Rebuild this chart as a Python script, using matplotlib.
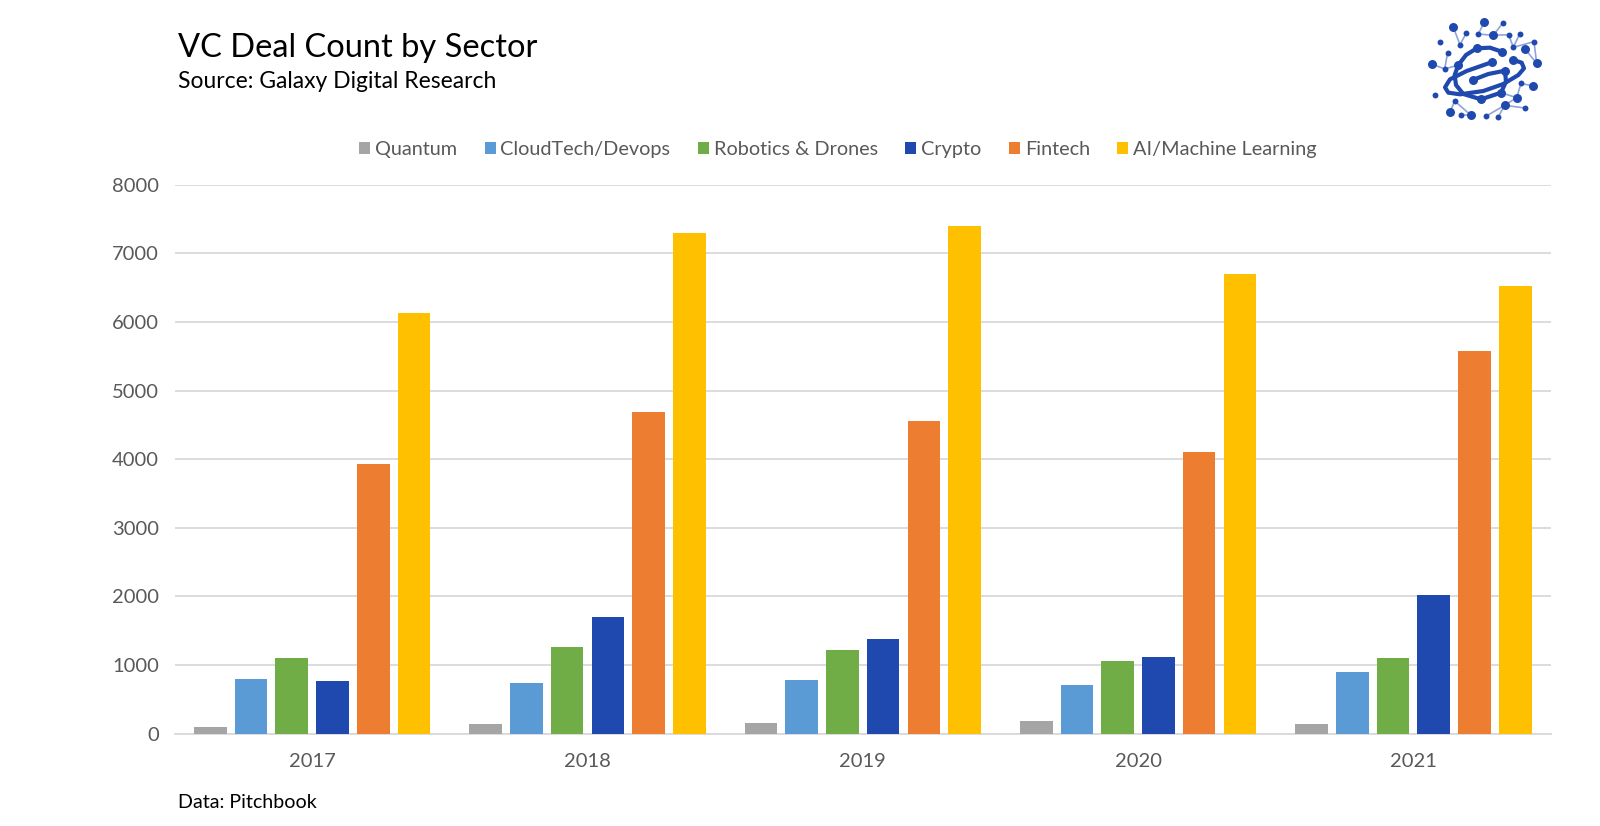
#!/usr/bin/env python3

import numpy as np
import matplotlib
matplotlib.use("Agg")
import matplotlib.pyplot as plt

years = ["2017", "2018", "2019", "2020", "2021"]
sectors = ["Quantum", "CloudTech/Devops", "Robotics & Drones", "Crypto", "Fintech", "AI/Machine Learning"]
quantum = [100, 140, 150, 185, 140]
cloudtech = [790, 735, 780, 710, 900]
robotics = [1105, 1260, 1220, 1055, 1100]
crypto = [770, 1700, 1380, 1120, 2020]
fintech = [3930, 4695, 4550, 4100, 5570]
ai_ml = [6130, 7300, 7405, 6695, 6530]
series = [quantum, cloudtech, robotics, crypto, fintech, ai_ml]
colors = ["#A5A5A5", "#5B9BD5", "#70AD47", "#1F49AE", "#ED7D31", "#FFC000"]
yticks = [0, 1000, 2000, 3000, 4000, 5000, 6000, 7000, 8000]

# logo, in pixels of a 130x115 box scaled 3x
logo_big = [(100, 52), (193, 36), (220, 76), (36, 162), (115, 165), (170, 115), (245, 125), (217, 156),
            (280, 150), (255, 182), (158, 210), (243, 248), (183, 268), (338, 228), (350, 160), (316, 118),
            (90, 306), (153, 316), (290, 263), (254, 286)]
logo_small = [(120, 104), (139, 69), (175, 72), (249, 38), (266, 74), (280, 112), (299, 72), (342, 95),
              (59, 97), (83, 128), (74, 177), (44, 255), (104, 273), (123, 314), (199, 318), (234, 322),
              (315, 294), (303, 220)]
logo_thin = [[(100, 52), (120, 104), (139, 69)], [(193, 36), (175, 72), (220, 76), (249, 38)],
             [(220, 76), (266, 74), (280, 112), (299, 72)], [(280, 112), (342, 95), (350, 160), (316, 118)],
             [(36, 162), (74, 177), (83, 128)], [(74, 177), (115, 165)], [(90, 306), (104, 273), (153, 316), (123, 314)],
             [(199, 318), (254, 286), (234, 322)], [(254, 286), (315, 294)], [(254, 286), (290, 263), (303, 220), (338, 228)],
             [(243, 248), (290, 263)]]
logo_thick = [[(115, 165), (138, 135), (170, 115), (210, 113), (245, 125)],
              [(115, 165), (104, 195), (108, 225), (130, 252), (183, 268), (243, 248), (258, 215), (255, 182)],
              [(280, 150), (305, 158), (312, 175), (295, 195), (250, 222), (190, 243), (120, 253), (85, 248),
               (75, 232), (90, 208), (140, 183), (217, 156)],
              [(158, 210), (205, 192), (255, 182)]]
logo_blue = "#1F49AE"

plt.rcParams["font.family"] = ["Lato", "DejaVu Sans"]

fig = plt.figure(figsize=(16, 8.26), dpi=100)
ax = fig.add_axes([174.5 / 1600, 1 - 733.7 / 826, (1551 - 174.5) / 1600, (733.7 - 184.7) / 826])

x = np.arange(len(years))
width = 0.1185
gap = 0.148
for i, values in enumerate(series):
    ax.bar(x + (i - 2.5) * gap, values, width, color=colors[i], label=sectors[i], zorder=3)

ax.set_xlim(-0.5, 4.5)
ax.set_ylim(0, 8000)
ax.set_yticks(yticks)
ax.set_xticks(x)
ax.set_xticklabels(years)
ax.tick_params(axis="both", length=0, labelsize=14.5, labelcolor="#595959")
ax.tick_params(axis="x", pad=14)
ax.tick_params(axis="y", pad=11)
ax.grid(axis="y", color="#D9D9D9", linewidth=1.3, zorder=0)
for name in ["top", "left", "right"]:
    ax.spines[name].set_visible(False)
ax.spines["bottom"].set_color("#D9D9D9")
ax.spines["bottom"].set_linewidth(1.3)

ax.legend(loc="center", bbox_to_anchor=((838 - 174.5) / (1551 - 174.5), 1 + 35 / 549), ncol=6, frameon=False,
          fontsize=14.3, labelcolor="#595959", handlelength=0.55, handleheight=0.55, handletextpad=0.25, columnspacing=1.38)

fig.text(178.5 / 1600, 1 - 48 / 826, "VC Deal Count by Sector", fontsize=23.5, color="black", va="center")
fig.text(178.5 / 1600, 1 - 82 / 826, "Source: Galaxy Digital Research", fontsize=16.5, color="black", va="center")
fig.text(178.5 / 1600, 1 - 802 / 826, "Data: Pitchbook", fontsize=14.1, color="black", va="center")

# logo
logo = fig.add_axes([1420 / 1600, 1 - 125 / 826, 130 / 1600, 115 / 826])
logo.set_xlim(0, 390)
logo.set_ylim(345, 0)
logo.axis("off")
for path in logo_thin:
    px, py = zip(*path)
    logo.plot(px, py, color="#8FA4D8", linewidth=1.2, zorder=1)
for path in logo_thick:
    px, py = zip(*path)
    logo.plot(px, py, color=logo_blue, linewidth=3, solid_capstyle="round", solid_joinstyle="round", zorder=2)
px, py = zip(*logo_big)
logo.scatter(px, py, s=42, color=logo_blue, linewidths=0, zorder=3)
px, py = zip(*logo_small)
logo.scatter(px, py, s=18, color=logo_blue, linewidths=0, zorder=3)

fig.savefig("out.png", dpi=100)

# EOF
